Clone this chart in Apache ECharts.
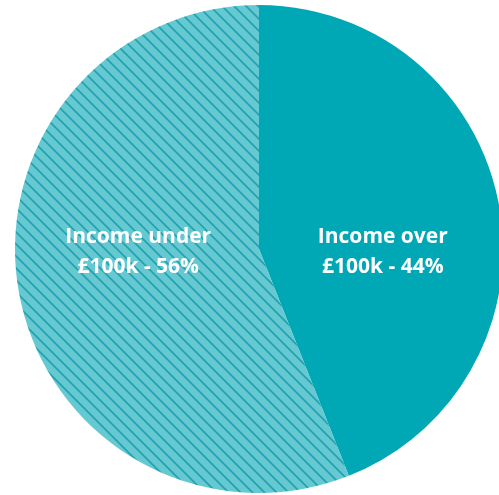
<!DOCTYPE html>
<html>
<head>
<meta charset="utf-8">
<script src="https://cdn.jsdelivr.net/npm/echarts@6/dist/echarts.min.js"></script>
<style>
  html, body { margin: 0; padding: 0; background: #ffffff; }
  #chart { width: 499px; height: 495px; }
</style>
</head>
<body>
<div id="chart"></div>
<script>
// Share of income groups
const categories = ['Income over\n£100k', 'Income under\n£100k'];
const shares = [44, 56];
const labelOffsets = [[1, 26], [2, -20]];

// Diagonal hatch tile for the lighter slice
function hatchTile() {
  const size = 12;
  const c = document.createElement('canvas');
  c.width = size; c.height = size;
  const g = c.getContext('2d');
  g.fillStyle = '#66c9d2';
  g.fillRect(0, 0, size, size);
  g.strokeStyle = '#1fa3b2';
  g.lineWidth = 1.7;
  g.beginPath();
  g.moveTo(-2, -2); g.lineTo(size + 2, size + 2);
  g.moveTo(-2, size - 2); g.lineTo(2, size + 2);
  g.moveTo(size - 2, -2); g.lineTo(size + 2, 2);
  g.stroke();
  return c;
}

const fills = ['#00a8b5', { image: hatchTile(), repeat: 'repeat' }];

const chart = echarts.init(document.getElementById('chart'));
chart.setOption({
  animation: false,
  series: [{
    type: 'pie',
    center: [259, 249],
    radius: [0, 244],
    startAngle: 90,
    clockwise: true,
    silent: true,
    label: {
      show: true,
      position: 'inside',
      formatter: '{b} - {c}%',
      color: '#ffffff',
      fontFamily: 'Open Sans',
      fontWeight: 'bold',
      fontSize: 21,
      lineHeight: 30,
      align: 'center'
    },
    labelLine: { show: false },
    itemStyle: { borderWidth: 0 },
    data: categories.map((name, i) => ({
      name: name,
      value: shares[i],
      itemStyle: { color: fills[i] },
      label: { offset: labelOffsets[i] }
    }))
  }]
});
</script>
</body>
</html>
